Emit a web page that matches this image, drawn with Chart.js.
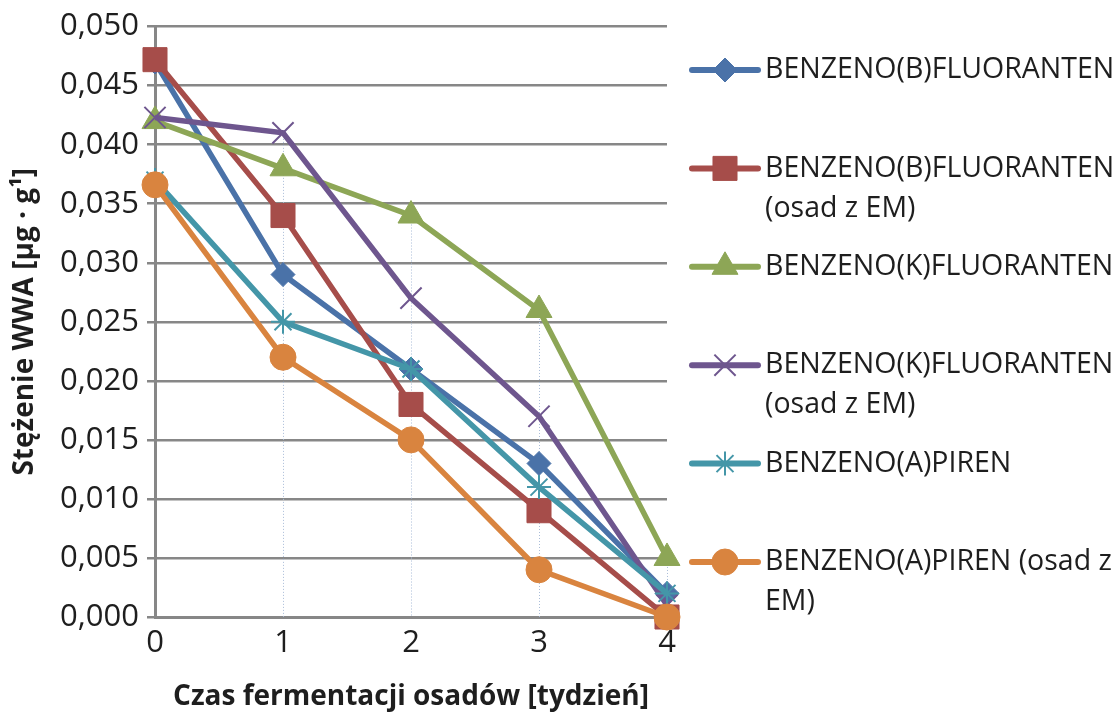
<!DOCTYPE html>
<html>
<head>
<meta charset="utf-8">
<script src="https://cdn.jsdelivr.net/npm/chart.js@4.4.0/dist/chart.umd.min.js"></script>
<style>
  body { margin: 0; background: #fff; }
  #wrap { width: 1117px; height: 715px; }
</style>
</head>
<body>
<div id="wrap"><canvas id="wwa-chart" width="1117" height="715"></canvas></div>
<script>
// weeks of sludge fermentation
const weeks = ['0', '1', '2', '3', '4'];

// PAH concentration [µg/g]
const bbf    = [0.047, 0.029, 0.021, 0.013, 0.002];
const bbfEM  = [0.0472, 0.034, 0.018, 0.009, 0.000];
const bkf    = [0.042, 0.038, 0.034, 0.026, 0.005];
const bkfEM  = [0.0423, 0.041, 0.027, 0.017, 0.001];
const bap    = [0.037, 0.025, 0.021, 0.011, 0.002];
const bapEM  = [0.0366, 0.022, 0.015, 0.004, 0.000];

const seriesNames = [
    ['BENZENO(B)FLUORANTEN'],
    ['BENZENO(B)FLUORANTEN', '(osad z EM)'],
    ['BENZENO(K)FLUORANTEN'],
    ['BENZENO(K)FLUORANTEN', '(osad z EM)'],
    ['BENZENO(A)PIREN'],
    ['BENZENO(A)PIREN (osad z', 'EM)']
];

const yMin = 0;
const yMax = 0.05;
const yStep = 0.005;

const FONT = "'Open Sans', 'DejaVu Sans', sans-serif";
const TEXT = '#1e1e1e';
const GRID = '#878787';

Chart.defaults.font.family = FONT;
Chart.defaults.color = TEXT;

function series(label, data, color, style, radius, bw) {
    return {
        label: label.join(' '),
        data: data,
        borderColor: color,
        backgroundColor: color,
        pointBackgroundColor: color,
        pointBorderColor: color,
        borderWidth: 5.5,
        pointStyle: style,
        pointRadius: radius,
        pointBorderWidth: bw,
        tension: 0,
        clip: false
    };
}

const datasets = [
    series(seriesNames[0], bbf,   '#4a72a8', 'rectRot',  12, 1),
    series(seriesNames[1], bbfEM, '#a64d4a', 'rect',     17, 1),
    series(seriesNames[2], bkf,   '#8da656', 'triangle', 15, 1),
    series(seriesNames[3], bkfEM, '#6e568e', 'crossRot', 15, 2),
    series(seriesNames[4], bap,   '#4496a8', 'star',     12, 2),
    series(seriesNames[5], bapEM, '#d9843f', 'circle',   13, 1)
];
// last series ends up on top
datasets.forEach((ds, i) => { ds.order = datasets.length - 1 - i; });

// dotted drop lines from the highest point of each week down to the axis
const dropLines = {
    id: 'dropLines',
    beforeDatasetsDraw(chart) {
        const ctx = chart.ctx;
        const x = chart.scales.x, y = chart.scales.y;
        ctx.save();
        ctx.strokeStyle = '#a9bcd8';
        ctx.lineWidth = 1;
        ctx.setLineDash([1, 2]);
        for (let i = 1; i < weeks.length; i++) {
            const top = Math.max(...chart.data.datasets.map(d => d.data[i]));
            const px = Math.round(x.getPixelForValue(i)) + 0.5;
            ctx.beginPath();
            ctx.moveTo(px, y.getPixelForValue(top));
            ctx.lineTo(px, y.getPixelForValue(yMin));
            ctx.stroke();
        }
        ctx.restore();
    }
};

// legend on the right, with wrapped labels
const sideLegend = {
    id: 'sideLegend',
    afterDraw(chart) {
        const ctx = chart.ctx;
        const x0 = 692, x1 = 758, tx = 765;
        const startY = 70, step = 98.4, lineH = 40;
        ctx.save();
        chart.data.datasets.forEach((ds, i) => {
            const cy = startY + i * step;
            ctx.strokeStyle = ds.borderColor;
            ctx.fillStyle = ds.borderColor;
            ctx.lineWidth = 6;
            ctx.lineCap = 'round';
            ctx.beginPath();
            ctx.moveTo(x0, cy);
            ctx.lineTo(x1, cy);
            ctx.stroke();
            ctx.lineCap = 'butt';
            ctx.lineWidth = ds.pointBorderWidth;
            Chart.helpers.drawPoint(ctx, {
                pointStyle: ds.pointStyle,
                radius: ds.pointRadius,
                rotation: 0,
                borderWidth: ds.pointBorderWidth
            }, (x0 + x1) / 2, cy);
            ctx.fillStyle = TEXT;
            ctx.font = '28.5px ' + FONT;
            ctx.textBaseline = 'middle';
            ctx.textAlign = 'left';
            seriesNames[i].forEach((line, k) => {
                ctx.fillText(line, tx, cy + k * lineH);
            });
        });
        ctx.restore();
    }
};

new Chart(document.getElementById('wwa-chart'), {
    type: 'line',
    data: { labels: weeks, datasets: datasets },
    options: {
        responsive: false,
        animation: false,
        layout: { padding: { top: 25, right: 450, left: 0, bottom: 0 } },
        plugins: {
            legend: { display: false },
            tooltip: { enabled: false }
        },
        scales: {
            x: {
                offset: false,
                grid: { display: false },
                border: { display: true, color: GRID, width: 3 },
                ticks: { font: { size: 31 }, padding: 0, color: TEXT },
                title: {
                    display: true,
                    text: 'Czas fermentacji osadów [tydzień]',
                    font: { size: 28, weight: 'bold' },
                    color: TEXT,
                    padding: { top: 0, bottom: 1 }
                },
                afterFit: s => { s.height = 98; }
            },
            y: {
                min: yMin,
                max: yMax,
                grid: { color: GRID, lineWidth: 2.5, tickLength: 8, drawTicks: true },
                border: { display: true, color: GRID, width: 3 },
                ticks: {
                    stepSize: yStep,
                    font: { size: 31 },
                    padding: 8,
                    color: TEXT,
                    callback: v => v.toFixed(3).replace('.', ',')
                },
                title: {
                    display: true,
                    text: 'Stężenie WWA [µg · g¹]',
                    font: { size: 28, weight: 'bold' },
                    color: TEXT,
                    padding: { top: 8, bottom: 0 }
                },
                afterFit: s => { s.width = 155; }
            }
        }
    },
    plugins: [dropLines, sideLegend]
});
</script>
</body>
</html>
